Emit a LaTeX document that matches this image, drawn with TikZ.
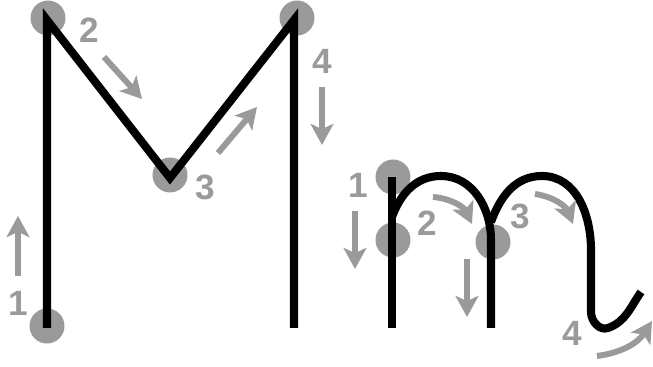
\documentclass[tikz,border=0pt]{standalone}
\usepackage{fontspec}
\setmainfont{Liberation Sans}
\usetikzlibrary{arrows.meta}
\definecolor{guidegray}{HTML}{9A9A9A}

\begin{document}
\begin{tikzpicture}[x=0.02cm, y=-0.02cm,
    >={Stealth[length=12pt, width=13pt, inset=3pt]},
    stroke/.style={line width=4.6pt, black},
    dot/.style={circle, fill=guidegray, minimum size=0.7cm, inner sep=0pt},
    num/.style={text=guidegray, font=\fontsize{20}{24}\selectfont\bfseries, inner sep=0pt},
    guide/.style={->, line width=3.4pt, guidegray},
  ]
  \useasboundingbox (0,0) rectangle (653,367);

  % capital M
  \node[dot] (bigA) at (47,326) {};
  \node[dot] (bigB) at (48,18)  {};
  \node[dot] (bigC) at (170,175) {};
  \node[dot] (bigD) at (297,18) {};

  \draw[stroke] (47,328) -- (47,20) -- (170,178) -- (294,20) -- (294,328);

  \node[num] (bigA1) at (18,303) {1};
  \node[num] (bigB2) at (89,30)  {2};
  \node[num] (bigC3) at (205,187) {3};
  \node[num] (bigD4) at (322,61) {4};

  \draw[guide] (18,276) -- (18,216);
  \draw[guide] (104,57) -- (142,99);
  \draw[guide] (218,153) -- (257,107);
  \draw[guide] (322,87) -- (322,145);

  % small m
  \node[dot] (smA) at (393,177) {};
  \node[dot] (smB) at (393,240) {};
  \node[dot] (smC) at (493,242) {};

  \draw[stroke] (392,177) -- (392,328);
  \draw[stroke] (392,217) to[out=70, in=180] (441,176)
    to[out=0, in=90] (491,240) -- (491,328);
  \draw[stroke] (491,222) to[out=70, in=180] (542,176)
    to[out=0, in=90] (591,250) -- (591,312)
    to[out=-90, in=200] (608,328) to[out=20, in=-125] (641,292);

  \node[num] (smA1) at (358,185) {1};
  \node[num] (smB2) at (427,223) {2};
  \node[num] (smC3) at (520,216) {3};
  \node[num] (smD4) at (572,333) {4};

  \draw[guide] (355,211) -- (355,269);
  \draw[guide] (433,197) to[bend left=30] (472,224);
  \draw[guide] (467,259) -- (467,317);
  \draw[guide] (535,194) to[bend left=30] (573,224);
  \draw[guide] (597,356) to[bend right=25] (652,321);
\end{tikzpicture}
\end{document}
